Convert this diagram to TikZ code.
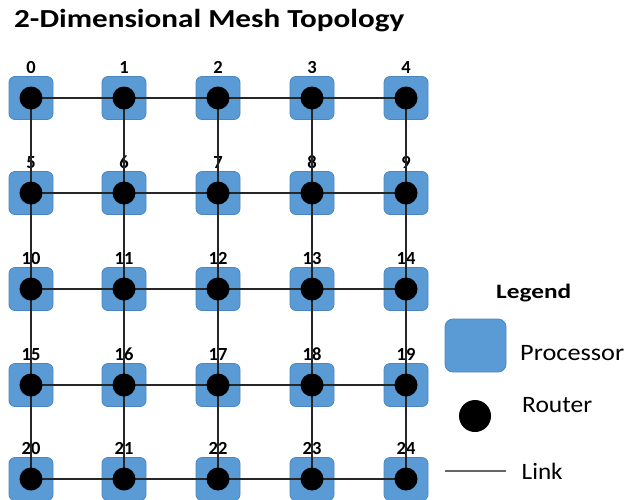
\documentclass[tikz,border=0pt]{standalone}
\usepackage{fontspec}
\setmainfont{Carlito}
\begin{document}
\begin{tikzpicture}[x=1pt,y=-1pt,
  proc/.style={draw=procedge,fill=procblue,line width=0.8pt,rounded corners=6pt,
    minimum width=44pt,minimum height=43pt,inner sep=0pt},
  router/.style={circle,fill=black,minimum size=23pt,inner sep=0pt},
  link/.style={draw=linkgray,line width=1.3pt},
  idlabel/.style={font=\bfseries\fontsize{18.5}{18.5}\selectfont,anchor=base,inner sep=0pt},
  legtext/.style={anchor=base west,inner sep=0pt,font=\fontsize{23.5}{23.5}\selectfont}]
\definecolor{procblue}{HTML}{5B9BD5}
\definecolor{procedge}{HTML}{4A86BE}
\definecolor{linkgray}{HTML}{262626}
\useasboundingbox (0,0) rectangle (626,499);

% title
\node[anchor=base west,inner sep=0pt,font=\bfseries\fontsize{26}{26}\selectfont] (title) at (14,27)
  {\resizebox{390pt}{\height}{2-Dimensional Mesh Topology}};

% processors, labels and router positions
\foreach \r/\yy in {0/98,1/193,2/289,3/385,4/479}{
  \foreach \c/\xx in {0/31,1/124,2/218,3/312,4/406}{
    \pgfmathtruncatemacro{\id}{5*\r+\c}
    \node[proc] (p\id) at (\xx,\yy) {};
    \node[idlabel] (l\id) at (\xx,\yy-25) {\id};
    \coordinate (c\id) at (\xx,\yy);
  }
}

% horizontal links
\foreach \r in {0,...,4}{
  \foreach \c in {0,...,3}{
    \pgfmathtruncatemacro{\a}{5*\r+\c}
    \pgfmathtruncatemacro{\b}{5*\r+\c+1}
    \draw[link] (c\a) -- (c\b);
  }
}
% vertical links
\foreach \c in {0,...,4}{
  \foreach \r in {0,...,3}{
    \pgfmathtruncatemacro{\a}{5*\r+\c}
    \pgfmathtruncatemacro{\b}{5*\r+\c+5}
    \draw[link] (c\a) -- (c\b);
  }
}

% routers
\foreach \i in {0,...,24}{
  \node[router] (r\i) at (c\i) {};
}

% legend
\node[anchor=base west,inner sep=0pt,font=\bfseries\fontsize{20.5}{20.5}\selectfont] (legtitle) at (496,298)
  {\resizebox{75pt}{\height}{Legend}};
\node[proc,minimum width=61pt,minimum height=53pt,rounded corners=8pt] (legproc) at (475.5,345.5) {};
\node[legtext] (legproctxt) at (520,360) {\resizebox{104pt}{\height}{Processor}};
\node[router,minimum size=32pt] (legrouter) at (475,416) {};
\node[legtext] (legroutertxt) at (522,412) {\resizebox{70pt}{\height}{Router}};
\coordinate (lk1) at (445,471);
\coordinate (lk2) at (506,471);
\draw[draw=gray!80!black,line width=1.2pt] (lk1) -- (lk2);
\node[legtext] (linktxt) at (521.5,479) {\resizebox{41pt}{\height}{Link}};
\end{tikzpicture}
\end{document}
